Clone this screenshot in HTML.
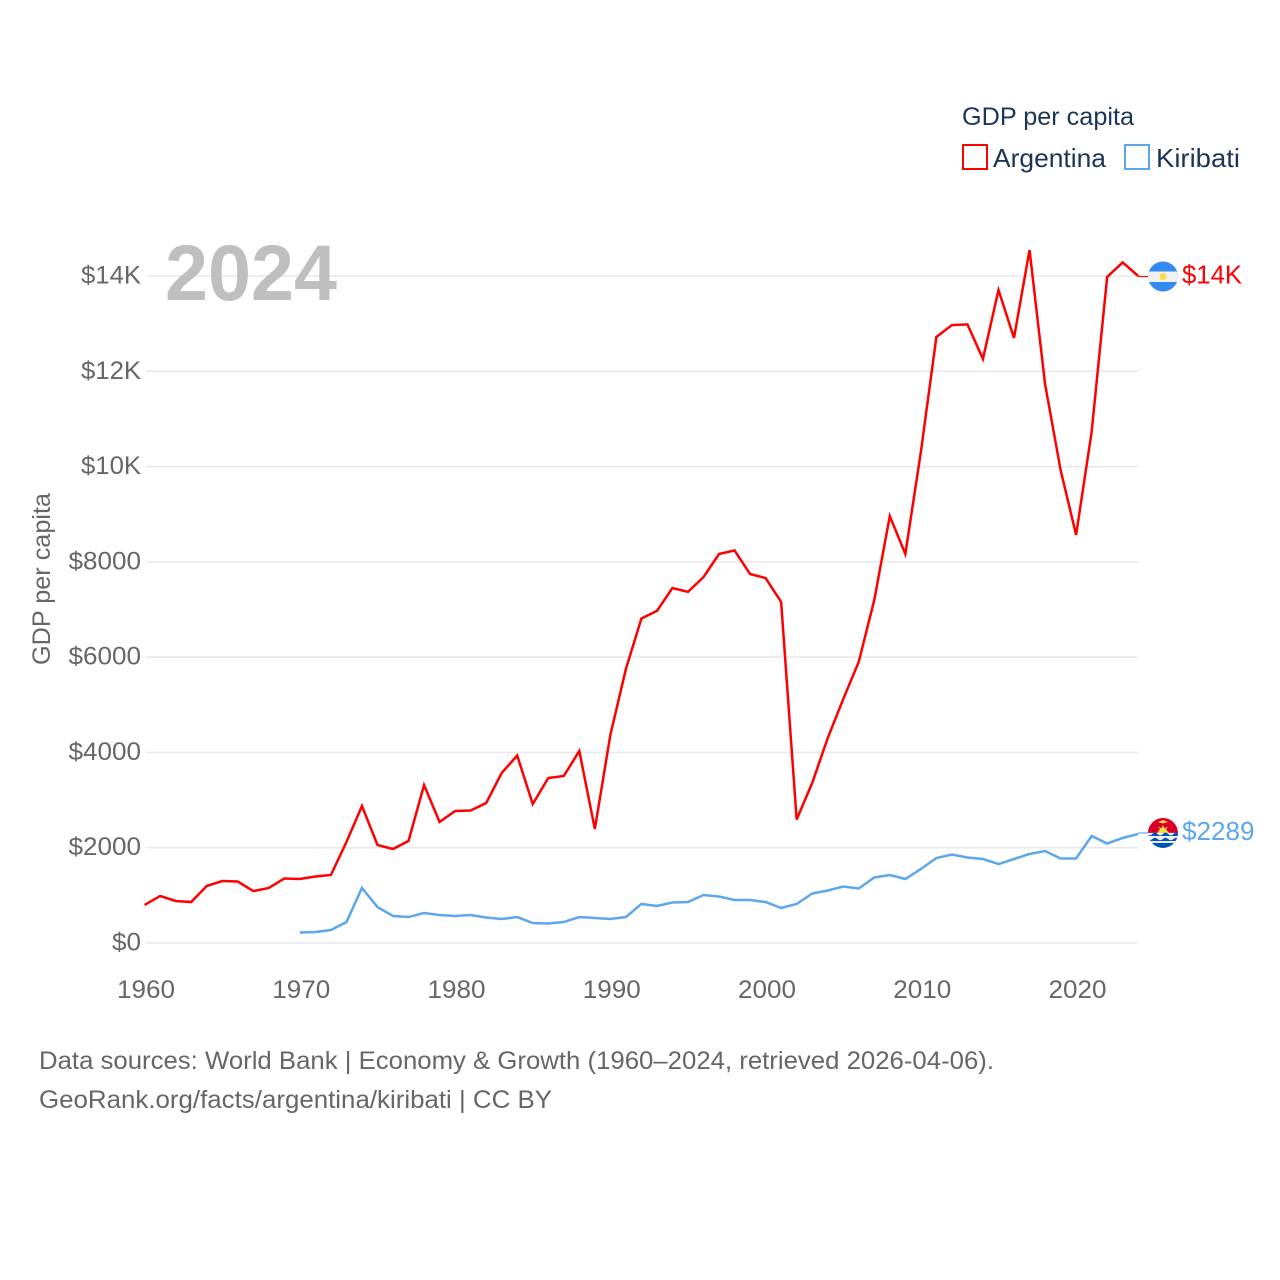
<!DOCTYPE html>
<html lang="en">
<head>
<meta charset="utf-8">
<title>GDP per capita: Argentina and Kiribati</title>
<style>
html,body{margin:0;padding:0;background:#fff;width:1280px;height:1280px;overflow:hidden}
svg{display:block}
text{font-family:"Liberation Sans",sans-serif}
</style>
</head>
<body>
<svg id="chart" xmlns="http://www.w3.org/2000/svg" width="1280" height="1280" viewBox="0 0 1280 1280">
  <defs>
    <clipPath id="flag-clip"><circle cx="0" cy="0" r="15"></circle></clipPath>
  </defs>
  <rect x="0" y="0" width="1280" height="1280" fill="#ffffff"></rect>
  <g id="grid"></g>
  <text x="165" y="300" font-size="79" font-weight="700" fill="#bfbfbf" textLength="172" lengthAdjust="spacingAndGlyphs">2024</text>
  <g id="y-axis"></g>
  <g id="x-axis"></g>
  <text transform="translate(50,579) rotate(-90)" text-anchor="middle" font-size="25" fill="#666666" textLength="172" lengthAdjust="spacingAndGlyphs">GDP per capita</text>
  <g id="series"></g>
  <g id="end-labels"></g>
  <g>
    <text x="962" y="125" font-size="25" fill="#1b3557" textLength="172" lengthAdjust="spacingAndGlyphs">GDP per capita</text>
    <g>
      <rect x="963" y="145" width="24" height="24" fill="none" stroke="#ff0000" stroke-width="2"></rect>
      <text x="993" y="167" font-size="26" fill="#1b3557" textLength="113" lengthAdjust="spacingAndGlyphs">Argentina</text>
    </g>
    <g>
      <rect x="1125" y="145" width="24" height="24" fill="none" stroke="#5ca6ee" stroke-width="2"></rect>
      <text x="1156" y="167" font-size="26" fill="#1b3557" textLength="84" lengthAdjust="spacingAndGlyphs">Kiribati</text>
    </g>
  </g>
  <text x="39" y="1069" font-size="25" fill="#666666" textLength="955" lengthAdjust="spacingAndGlyphs">Data sources: World Bank | Economy &amp; Growth (1960–2024, retrieved 2026-04-06).</text>
  <text x="39" y="1108" font-size="25" fill="#666666" textLength="513" lengthAdjust="spacingAndGlyphs">GeoRank.org/facts/argentina/kiribati | CC BY</text>
</svg>
<script>
var xTickYears = [1960, 1970, 1980, 1990, 2000, 2010, 2020];
var yTickValues = [0, 2000, 4000, 6000, 8000, 10000, 12000, 14000];
var yTickLabels = ["$0", "$2000", "$4000", "$6000", "$8000", "$10K", "$12K", "$14K"];
var argentinaStartYear = 1960;
var argentinaValues = [798, 987, 882, 860, 1196, 1300, 1290, 1090, 1155, 1354,
  1343, 1395, 1427, 2120, 2875, 2057, 1973, 2141, 3316, 2540,
  2770, 2781, 2938, 3568, 3935, 2917, 3463, 3505, 4030, 2392,
  4366, 5750, 6810, 6970, 7450, 7370, 7680, 8165, 8240, 7745,
  7660, 7160, 2592, 3358, 4300, 5120, 5900, 7200, 8960, 8165,
  10305, 12720, 12970, 12985, 12260, 13705, 12700, 14545, 11735, 9930,
  8565, 10725, 13980, 14285, 14000];
var kiribatiStartYear = 1970;
var kiribatiValues = [220, 230, 273, 440, 1155, 755, 567, 545, 630, 588,
  567, 588, 535, 504, 545, 420, 410, 440, 545, 525,
  504, 545, 819, 777, 850, 860, 1008, 976, 903, 903,
  860, 735, 819, 1039, 1102, 1186, 1144, 1375, 1427, 1343,
  1553, 1784, 1858, 1795, 1763, 1658, 1763, 1868, 1931, 1774,
  1774, 2246, 2089, 2204, 2289];

var NS = 'http://www.w3.org/2000/svg';
function xScale(year) { return 144.6 + (year - 1960) * 15.525; }
function yScale(value) { return 943 - value * (667 / 14000); }
function make(tag, attrs, parent) {
  var el = document.createElementNS(NS, tag);
  for (var k in attrs) el.setAttribute(k, attrs[k]);
  if (parent) parent.appendChild(el);
  return el;
}
function linePath(startYear, values) {
  return values.map(function (v, i) {
    return (i ? 'L' : 'M') + xScale(startYear + i).toFixed(2) + ' ' + yScale(v).toFixed(2);
  }).join('');
}
function formatValue(v) {
  return v >= 10000 ? '$' + Math.round(v / 1000) + 'K' : '$' + Math.round(v);
}
function labelWidth(s) {
  var w = 0;
  for (var i = 0; i < s.length; i++) w += s[i] === '$' ? 14.5 : s[i] === 'K' ? 16.5 : 14.5;
  return w;
}

var grid = document.getElementById('grid');
var yAxis = document.getElementById('y-axis');
yTickValues.forEach(function (v, i) {
  var line = make('line', {x1: 146, x2: 1138, y1: yScale(v), y2: yScale(v), stroke: '#e8e8e8', 'stroke-width': 1.5}, grid);
  
  
  var t = make('text', {x: 141, y: yScale(v) + 7.5, 'text-anchor': 'end', 'font-size': 25, fill: '#666666', textLength: labelWidth(yTickLabels[i]), lengthAdjust: 'spacingAndGlyphs'}, yAxis);
  
  
  t.textContent = yTickLabels[i];
});

var xAxis = document.getElementById('x-axis');
xTickYears.forEach(function (yr) {
  var t = make('text', {x: xScale(yr) + 1.4, y: 998, 'text-anchor': 'middle', 'font-size': 25, fill: '#666666', textLength: 58, lengthAdjust: 'spacingAndGlyphs'}, xAxis);
  
  
  t.textContent = yr;
});

var series = document.getElementById('series');
var argLine = make('path', {d: linePath(argentinaStartYear, argentinaValues), fill: 'none', stroke: '#ff0000', 'stroke-width': 2.5, 'stroke-linejoin': 'miter', 'stroke-miterlimit': 4}, series);


var kirLine = make('path', {d: linePath(kiribatiStartYear, kiribatiValues), fill: 'none', stroke: '#5ca6ee', 'stroke-width': 2.5, 'stroke-linejoin': 'miter', 'stroke-miterlimit': 4}, series);



var endLabels = document.getElementById('end-labels');
function addEnd(name, color, startYear, values, nudge) {
  var last = values[values.length - 1];
  var year = startYear + values.length - 1;
  var y = yScale(last) + nudge;
  var conn = make('line', {x1: xScale(year), x2: 1149, y1: y, y2: y, stroke: color, 'stroke-width': 1.2}, endLabels);
  
  
  var label = formatValue(last);
  var t = make('text', {x: 1182, y: y + 7, 'font-size': 26, fill: color, textLength: labelWidth(label), lengthAdjust: 'spacingAndGlyphs'}, endLabels);
  
  
  t.textContent = label;
  var flag = make('g', {transform: 'translate(1163,' + y + ')', 'clip-path': 'url(#flag-clip)'}, endLabels);
  
  
  return flag;
}

var fa = addEnd('argentina', '#ff0000', argentinaStartYear, argentinaValues, 0.5);
make('rect', {x: -16, y: -16, width: 32, height: 32, fill: '#338af3'}, fa);
make('rect', {x: -16, y: -5, width: 32, height: 10.5, fill: '#f0f0f0'}, fa);
make('circle', {cx: 0, cy: 0, r: 3.5, fill: '#ffda44'}, fa);

var fk = addEnd('kiribati', '#5ca6ee', kiribatiStartYear, kiribatiValues, -1);
make('rect', {x: -16, y: -16, width: 32, height: 16, fill: '#d80027'}, fk);
make('rect', {x: -16, y: 0, width: 32, height: 16, fill: '#f0f0f0'}, fk);
make('path', {d: 'M-6 0 L-3 -4 L-5 -6 L-1.5 -5 L0 -8 L1.5 -5 L5 -6 L3 -4 L6 0 Z', fill: '#ffda44'}, fk);
make('path', {d: 'M-5 -11 L0 -13 L5 -11 L0 -9.5 Z', fill: '#ffda44'}, fk);
make('path', {d: 'M-16 1 q2.7 3 5.3 0 t5.3 0 t5.3 0 t5.3 0 t5.3 0 t5.3 0 V3 H-16 Z', fill: '#0052b4'}, fk);
make('path', {d: 'M-16 6 q2.7 2.5 5.3 0 t5.3 0 t5.3 0 t5.3 0 t5.3 0 t5.3 0 V8 H-16 Z', fill: '#0052b4'}, fk);
make('rect', {x: -16, y: 10, width: 32, height: 6, fill: '#0052b4'}, fk);
</script>
</body>
</html>
